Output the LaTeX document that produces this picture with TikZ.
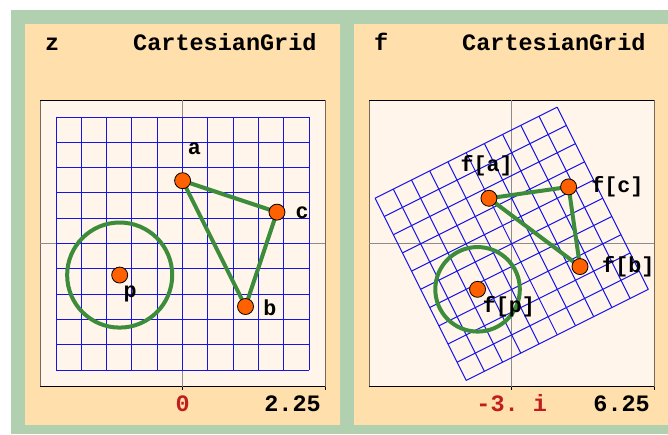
\documentclass[tikz,border=0pt]{standalone}
\usepackage{fontspec}
\setmonofont{Liberation Mono}
\usepackage{tikz}

\definecolor{panelgreen}{RGB}{176,208,176}
\definecolor{peach}{RGB}{255,223,171}
\definecolor{plotbg}{RGB}{255,245,235}
\definecolor{gridblue}{RGB}{20,20,230}
\definecolor{curvegreen}{RGB}{60,140,60}
\definecolor{dotorange}{RGB}{255,96,0}
\definecolor{tickred}{RGB}{190,30,30}
\definecolor{framebrown}{RGB}{120,105,90}

\tikzset{
  title/.style={font=\ttfamily\bfseries\fontsize{23.5}{28}\selectfont, inner sep=0pt},
  ptlabel/.style={font=\ttfamily\bfseries\fontsize{21.7}{26}\selectfont, inner sep=0pt},
  dot/.style={circle, draw=black, fill=dotorange, line width=0.8pt, minimum size=16pt, inner sep=0pt},
  gridline/.style={gridblue, line width=1pt},
  curve/.style={curvegreen, line width=4pt},
  axisline/.style={black!45, line width=0.8pt},
}

\begin{document}
\begin{tikzpicture}[x=1pt, y=1pt]

% page and panels
\useasboundingbox[fill=white] (0,0) rectangle (668,434);
\fill[panelgreen] (11,0) rectangle (668,424);
\fill[peach] (25,9) rectangle (340,410);
\fill[peach] (354,9) rectangle (668,410);

% titles
\node[title, anchor=base west] (ztitle) at (45,383.3) {z};
\node[title, anchor=base west] (zkind) at (133,383.3) {CartesianGrid};
\node[title, anchor=base west] (ftitle) at (374,383.3) {f};
\node[title, anchor=base west] (fkind) at (462,383.3) {CartesianGrid};

% plot frames
\fill[plotbg] (40,47.5) rectangle (325,334);
\fill[plotbg] (369,47.5) rectangle (654,334);
\draw[framebrown, line width=1pt] (40,47.5) -- (40,334) (325,47.5) -- (325,334);
\draw[framebrown, line width=1pt] (369,47.5) -- (369,334) (654,47.5) -- (654,334);
\draw[black, line width=0.8pt] (40,334) -- (325,334) (40,47.5) -- (325,47.5);
\draw[black, line width=0.8pt] (369,334) -- (654,334) (369,47.5) -- (654,47.5);

% axes through the origin
\draw[axisline] (182.6,47.5) -- (182.6,334) (40,190.4) -- (325,190.4);
\draw[axisline] (511.7,47.5) -- (511.7,334) (369,190.2) -- (654,190.2);

% frame ticks
\draw[black, line width=1.4pt] (182.6,47.5) -- (325,47.5);
\draw[black, line width=1pt] (182.6,47.5) -- (182.6,44) (325,47.5) -- (325,44);
\draw[black, line width=1.4pt] (511.7,47.5) -- (654,47.5);
\draw[black, line width=1pt] (511.7,47.5) -- (511.7,44) (654,47.5) -- (654,44);

% tick labels
\node[title, anchor=base, text=tickred] (zzero) at (182.6,22.3) {0};
\node[title, anchor=base east] (zmax) at (321,22.3) {2.25};
\node[title, anchor=base, text=tickred] (fzero) at (511.7,22.3) {-3. i};
\node[title, anchor=base east] (fmax) at (650,22.3) {6.25};

% left panel: z plane
\begin{scope}[shift={(182.6,190.4)}, scale=63.3]
  \foreach \k in {-5,...,5} {
    \draw[gridline] (\k*0.4,-2) -- (\k*0.4,2);
    \draw[gridline] (-2,\k*0.4) -- (2,\k*0.4);
  }
  \coordinate (a) at (0,1);
  \coordinate (b) at (1,-1);
  \coordinate (c) at (1.5,0.5);
  \coordinate (p) at (-1,-0.5);
  \draw[curve] (a) -- (c) -- (b) -- cycle;
  \draw[curve] (p) circle[radius=0.83];
  \node[dot] (adot) at (a) {};
  \node[dot] (bdot) at (b) {};
  \node[dot] (cdot) at (c) {};
  \node[dot] (pdot) at (p) {};
  \node[ptlabel] (alab) at (0.185,1.5) {a};
  \node[ptlabel] (blab) at (1.38,-1.01) {b};
  \node[ptlabel] (clab) at (1.89,0.48) {c};
  \node[ptlabel] (plab) at (-0.83,-0.8) {p};
\end{scope}

% right panel: image under f
\begin{scope}[shift={(511.7,190.2)}, scale=22.77]
  \begin{scope}[cm={2,1,-1,2,(0,0)}]
    \foreach \k in {-5,...,5} {
      \draw[gridline] (\k*0.4,-2) -- (\k*0.4,2);
      \draw[gridline] (-2,\k*0.4) -- (2,\k*0.4);
    }
  \end{scope}
  \coordinate (fa) at (-1,2);
  \coordinate (fb) at (3,-1);
  \coordinate (fc) at (2.5,2.5);
  \coordinate (fp) at (-1.5,-2);
  \draw[curve] (fa) -- (fc) -- (fb) -- cycle;
  \draw[curve] (fp) circle[radius=1.856];
  \node[dot] (fadot) at (fa) {};
  \node[dot] (fbdot) at (fb) {};
  \node[dot] (fcdot) at (fc) {};
  \node[dot] (fpdot) at (fp) {};
  \node[ptlabel] (falab) at (-1.1,3.43) {f[a]};
  \node[ptlabel] (fblab) at (5.12,-1.0) {f[b]};
  \node[ptlabel] (fclab) at (4.64,2.52) {f[c]};
  \node[ptlabel] (fplab) at (-0.12,-2.75) {f[p]};
\end{scope}

\end{tikzpicture}
\end{document}
